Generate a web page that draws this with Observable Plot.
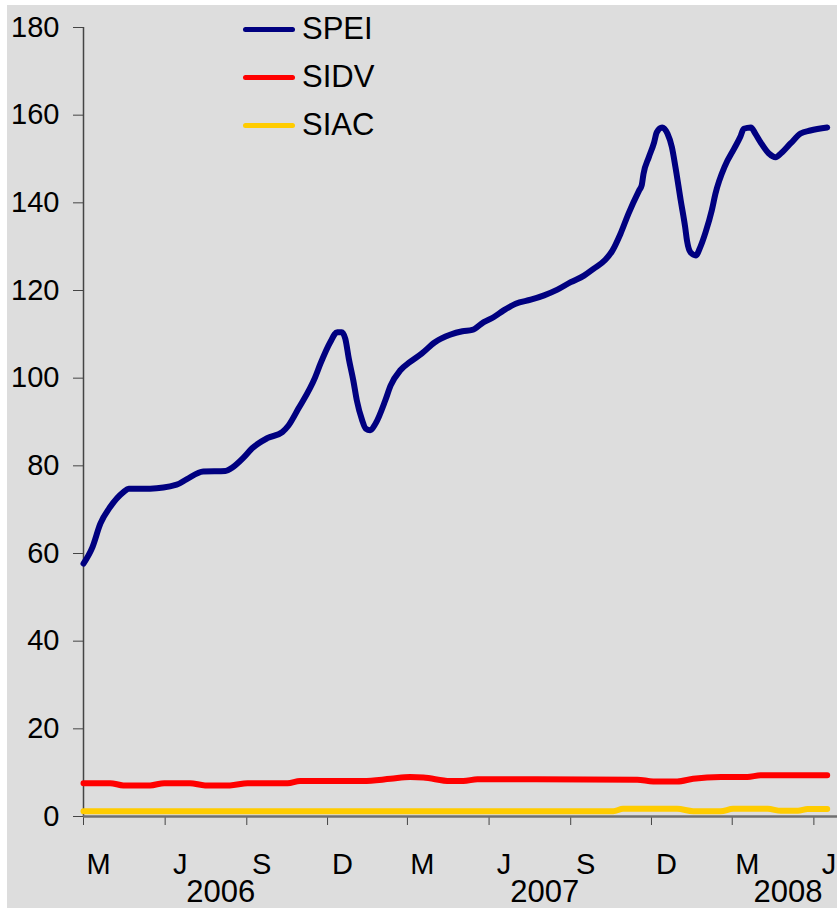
<!DOCTYPE html>
<html>
<head>
<meta charset="utf-8">
<script src="https://cdn.jsdelivr.net/npm/d3@7"></script>
<script src="https://cdn.jsdelivr.net/npm/@observablehq/plot@0.6"></script>
<style>
  html, body { margin: 0; padding: 0; background: #ffffff; }
  #wrap { position: relative; width: 837px; height: 908px; box-sizing: border-box; padding: 5px 0 0 7px; overflow: hidden; }
  #chart svg { display: block; background: #dddddd; }
  #legend { position: absolute; left: 243px; top: 5px; font-family: "Liberation Sans", Arial, sans-serif; font-size: 31px; color: #000; }
  .item { display: flex; align-items: center; height: 48px; }
  .sw { width: 52px; height: 5px; border-radius: 3px; margin-right: 7px; }
</style>
</head>
<body>
<div id="wrap">
  <div id="chart"></div>
  <div id="legend"></div>
</div>
<script>
// ---- data ----
const seriesNames = ["SPEI", "SIDV", "SIAC"];
const seriesColors = ["#000080", "#ff0000", "#ffcc00"];

const speiDates = ["2006-03-01","2006-03-11","2006-03-20","2006-03-31","2006-04-15","2006-04-21","2006-05-15","2006-06-14","2006-06-25","2006-07-14","2006-08-08","2006-08-15","2006-08-28","2006-09-07","2006-09-24","2006-10-11","2006-10-18","2006-10-29","2006-11-17","2006-11-23","2006-12-04","2006-12-12","2006-12-17","2006-12-21","2006-12-25","2006-12-30","2007-01-03","2007-01-09","2007-01-13","2007-01-18","2007-01-24","2007-02-04","2007-02-10","2007-02-21","2007-03-04","2007-03-17","2007-04-01","2007-04-18","2007-05-02","2007-05-13","2007-05-26","2007-06-06","2007-06-17","2007-07-01","2007-07-18","2007-08-02","2007-08-17","2007-09-01","2007-09-16","2007-09-27","2007-10-10","2007-10-18","2007-10-27","2007-11-05","2007-11-17","2007-11-20","2007-11-22","2007-11-28","2007-12-04","2007-12-07","2007-12-13","2007-12-19","2007-12-24","2007-12-28","2008-01-03","2008-01-08","2008-01-10","2008-01-14","2008-01-20","2008-01-25","2008-01-31","2008-02-07","2008-02-11","2008-02-22","2008-03-03","2008-03-10","2008-03-14","2008-03-22","2008-03-27","2008-04-02","2008-04-11","2008-04-19","2008-04-25","2008-05-06","2008-05-17","2008-05-28","2008-06-16"];
const speiValues = [57.7,61.4,66.8,70.6,74.0,74.8,74.8,75.7,76.9,78.7,78.8,79.5,81.8,84.0,86.3,87.7,89.2,93.0,100.2,103.3,108.2,110.5,110.5,109.0,104.4,99.5,94.9,90.4,88.5,88.1,89.6,94.9,98.3,101.8,103.7,105.6,108.2,109.9,110.7,111.0,112.8,113.9,115.4,117.0,117.9,118.9,120.2,121.9,123.4,125.0,127.0,129.1,132.9,137.5,142.8,144.0,146.6,150.4,153.8,156.1,157.2,155.8,152.7,148.2,140.5,134.4,131.4,128.7,128.0,129.9,133.3,138.3,142.0,148.5,152.3,155.0,156.9,157.2,155.8,153.8,151.3,150.4,151.3,153.6,155.8,156.5,157.2];

const sidvDates = ["2006-03-01","2006-03-31","2006-04-15","2006-05-15","2006-05-31","2006-06-29","2006-07-16","2006-08-13","2006-09-02","2006-10-17","2006-10-31","2007-01-10","2007-02-10","2007-03-04","2007-03-19","2007-04-18","2007-05-03","2007-05-19","2007-11-15","2007-12-03","2007-12-30","2008-01-17","2008-02-17","2008-03-18","2008-04-02","2008-06-16"];
const sidvValues = [7.6,7.6,7.1,7.1,7.6,7.6,7.1,7.1,7.6,7.6,8.1,8.1,8.6,9.0,8.9,8.1,8.1,8.5,8.4,8.0,8.0,8.6,9.0,9.0,9.4,9.4];

const siacDates = ["2006-03-01","2007-10-19","2007-10-30","2007-12-30","2008-01-17","2008-02-17","2008-03-02","2008-04-10","2008-04-25","2008-05-14","2008-05-25","2008-06-16"];
const siacValues = [1.2,1.2,1.75,1.75,1.2,1.2,1.75,1.75,1.3,1.3,1.7,1.7];

const monthTickDates = ["2006-03-01","2006-06-01","2006-09-01","2006-12-01","2007-03-01","2007-06-01","2007-09-01","2007-12-01","2008-03-01","2008-06-01"];
const monthTickLabels = ["M","J","S","D","M","J","S","D","M","J"];
const yearLabels = ["2006","2007","2008"];
const yTicks = [0,20,40,60,80,100,120,140,160,180];
const xDomain = ["2006-03-01","2008-07-01"];

// ---- build ----
const parse = d3.utcParse("%Y-%m-%d");
function rows(name, dates, values) { return dates.map((d, i) => ({series: name, date: parse(d), value: values[i]})); }
const allSeries = [
  rows("SPEI", speiDates, speiValues),
  rows("SIDV", sidvDates, sidvValues),
  rows("SIAC", siacDates, siacValues)
];
const ticks = monthTickDates.map((d, i) => ({date: parse(d), label: monthTickLabels[i], year: d.slice(0, 4)}));
const years = yearLabels.map(y => {
  const t = ticks.filter(k => k.year === y);
  return {year: y, date: new Date(d3.mean(t, k => +k.date))};
});

const font = "Liberation Sans, Arial, sans-serif";
const W = 830, H = 903;

const chart = Plot.plot({
  width: W, height: H,
  marginLeft: 76, marginRight: 0, marginTop: 22, marginBottom: 92,
  style: {fontFamily: font, fontSize: "29px", color: "#000", background: "#dddddd", overflow: "visible"},
  x: {type: "utc", domain: xDomain.map(parse), range: [76, 833]},
  y: {domain: [0, 180]},
  marks: [
    Plot.axisY({ticks: yTicks, tickSize: 10, tickPadding: 14, stroke: "#444", fill: "#000", fontSize: 29, label: null}),
    Plot.axisX({ticks: ticks.map(t => t.date), tickSize: 9, tickFormat: () => "", stroke: "#444", label: null}),
    Plot.ruleX([parse(xDomain[0])], {y1: 0, y2: 180, stroke: "#444", strokeWidth: 1.5}),
    Plot.ruleY([0], {stroke: "#707070", strokeWidth: 2.5}),
    ...allSeries.map((data, i) => Plot.line(data, {
      x: "date", y: "value", stroke: seriesColors[i], strokeWidth: 6,
      curve: "monotone-x", strokeLinecap: "round", strokeLinejoin: "round"
    })).reverse(),
    Plot.text(ticks, {x: "date", text: "label", frameAnchor: "bottom", dy: 48, dx: 15, fontSize: 29, fill: "#000", lineAnchor: "middle"}),
    Plot.text(years, {x: "date", text: "year", frameAnchor: "bottom", dy: 76, dx: 15, fontSize: 31, fill: "#000", lineAnchor: "middle"})
  ]
});
document.getElementById("chart").appendChild(chart);

const legend = document.getElementById("legend");
seriesNames.forEach((n, i) => {
  const item = document.createElement("div");
  item.className = "item";
  const sw = document.createElement("div");
  sw.className = "sw";
  sw.style.background = seriesColors[i];
  const tx = document.createElement("span");
  tx.textContent = n;
  item.appendChild(sw); item.appendChild(tx);
  legend.appendChild(item);
});
</script>
</body>
</html>
